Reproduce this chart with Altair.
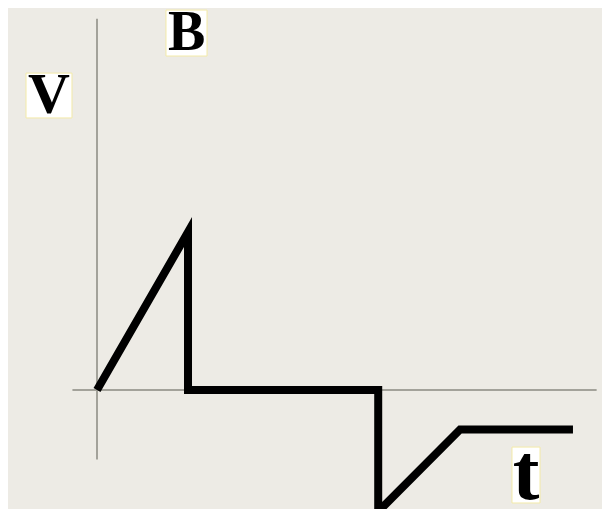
import altair as alt
import pandas as pd

# waveform (t in units, V in units)
wave_t = [0, 1, 1, 3.09, 3.09, 3.99, 5.23]
wave_v = [0, 1, 0, 0, -0.77, -0.25, -0.25]

# axis lines
axis_t1 = [-0.27, 0.0]
axis_t2 = [5.49, 0.0]
axis_v1 = [0.0, 2.35]
axis_v2 = [0.0, -0.44]

# labels
label_text = ["V", "B", "t"]
label_t = [-0.527, 0.984, 4.714]
label_v = [1.861, 2.259, -0.538]
label_size = [58, 56, 80]
box_t1 = [-0.780, 0.758, 4.560]
box_t2 = [-0.275, 1.209, 4.868]
box_v1 = [2.006, 2.405, -0.361]
box_v2 = [1.722, 2.114, -0.715]

xs = alt.Scale(domain=[-0.978, 5.549], nice=False, zero=False)
ys = alt.Scale(domain=[-0.753, 2.418], nice=False, zero=False)

wave = pd.DataFrame({"t": wave_t, "v": wave_v, "o": list(range(len(wave_t)))})
axes = pd.DataFrame({"t": axis_t1, "t2": axis_t2, "v": axis_v1, "v2": axis_v2})
labels = pd.DataFrame({"txt": label_text, "t": label_t, "v": label_v, "s": label_size,
                       "bt1": box_t1, "bt2": box_t2, "bv1": box_v1, "bv2": box_v2})

axis_layer = alt.Chart(axes).mark_rule(color="#a3a29a", strokeWidth=2).encode(
    x=alt.X("t:Q", scale=xs, axis=None), x2="t2:Q",
    y=alt.Y("v:Q", scale=ys, axis=None), y2="v2:Q")

line_layer = alt.Chart(wave).mark_line(color="black", strokeWidth=8,
                                       strokeJoin="miter", strokeCap="butt").encode(
    x=alt.X("t:Q", scale=xs, axis=None),
    y=alt.Y("v:Q", scale=ys, axis=None),
    order="o:Q")

box_layer = alt.Chart(labels).mark_rect(fill="white", stroke="#f3eaa8", strokeWidth=1).encode(
    x=alt.X("bt1:Q", scale=xs, axis=None), x2="bt2:Q",
    y=alt.Y("bv1:Q", scale=ys, axis=None), y2="bv2:Q")

text_layer = alt.Chart(labels).mark_text(font="Liberation Serif", fontWeight="bold",
                                         color="black", baseline="middle", align="center").encode(
    x=alt.X("t:Q", scale=xs, axis=None),
    y=alt.Y("v:Q", scale=ys, axis=None),
    text="txt:N",
    size=alt.Size("s:Q", scale=None, legend=None))

chart = alt.layer(axis_layer, line_layer, box_layer, text_layer).properties(
    width=594, height=501, background="#edebe5", padding=0,
    autosize=alt.AutoSizeParams(type="none")
).configure_view(stroke=None)

chart.save("out.html", embed_options={"renderer": "svg", "actions": False})
